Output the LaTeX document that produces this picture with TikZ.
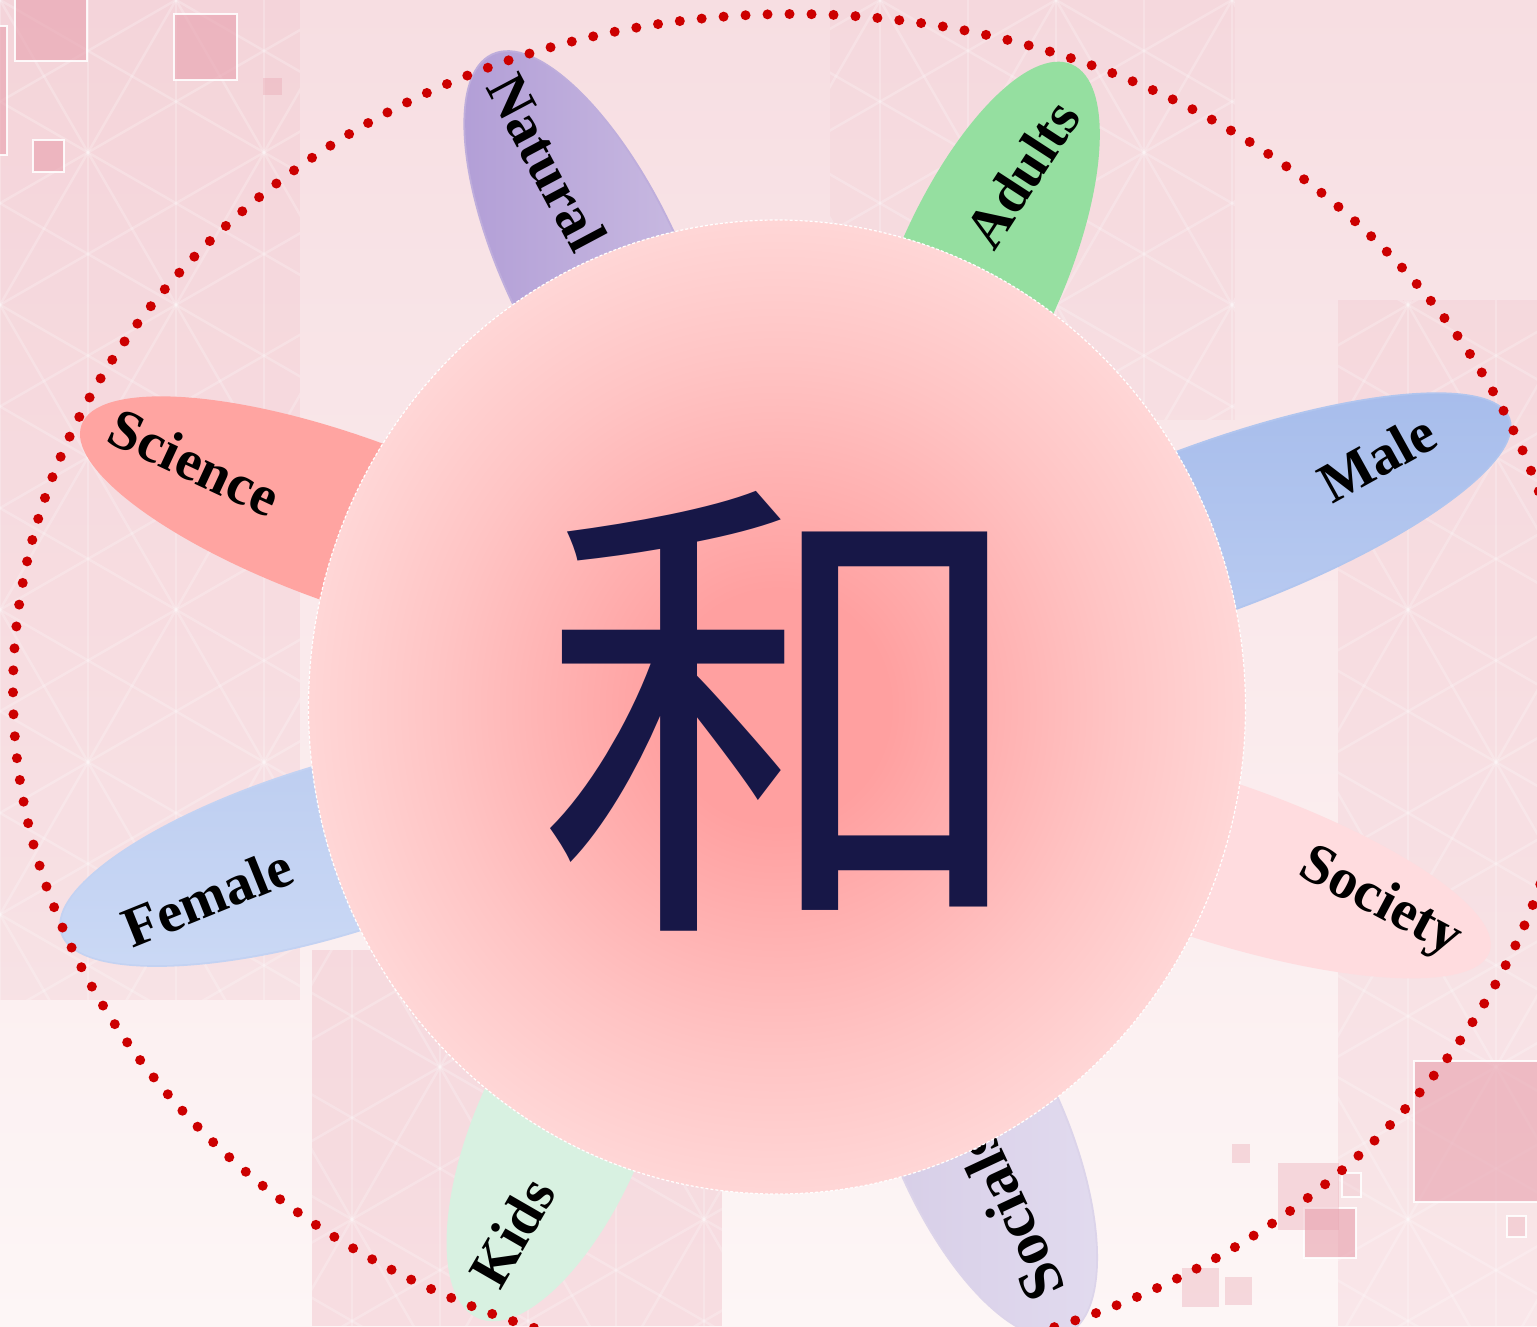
\documentclass[tikz,border=0pt]{standalone}
\usepackage{fontspec}
\setmainfont{Liberation Serif}
\newfontfamily\cjkfont[FakeStretch=1.03]{Noto Sans CJK JP}
\usetikzlibrary{shapes.geometric}
\definecolor{bgTop}{HTML}{F7DEE2}
\definecolor{bgBot}{HTML}{FDF6F6}
\definecolor{bandPink}{HTML}{EFB9C3}
\definecolor{sqPink}{HTML}{E8A0AD}
\definecolor{dotRed}{HTML}{CC0000}
\definecolor{kanjiCol}{HTML}{171747}
\definecolor{coreA}{HTML}{FFA0A0}
\definecolor{coreB}{HTML}{FFC4C4}
\definecolor{coreC}{HTML}{FFD9D9}
\definecolor{coreD}{HTML}{FFE2E2}
\definecolor{natL}{HTML}{B19DD6}
\definecolor{natR}{HTML}{CDBFE3}
\definecolor{natM}{HTML}{BFAEDC}
\definecolor{adultCol}{HTML}{95DFA0}
\definecolor{maleT}{HTML}{A6BCEB}
\definecolor{maleB}{HTML}{BDCEF2}
\definecolor{maleM}{HTML}{B1C5EE}
\definecolor{socCol}{HTML}{FFDCDF}
\definecolor{socialL}{HTML}{D5CCE6}
\definecolor{socialR}{HTML}{E2DBEF}
\definecolor{socialM}{HTML}{DCD4EA}
\definecolor{kidsCol}{HTML}{D8F1E1}
\definecolor{femT}{HTML}{BBCCF0}
\definecolor{femB}{HTML}{CBD9F5}
\definecolor{femM}{HTML}{C3D2F2}
\definecolor{sciCol}{HTML}{FFA4A1}
\pgfdeclareradialshading{coreglow}{\pgfpoint{0bp}{0bp}}{color(0bp)=(coreA); color(6bp)=(coreA); color(18bp)=(coreB); color(26bp)=(coreC); color(35bp)=(coreD); color(72bp)=(coreD)}
\tikzset{
  petallabel/.style={inner sep=0pt, text=black, font=\fontsize{57}{60}\selectfont\bfseries},
  decosq/.style={fill=sqPink, fill opacity=0.6, draw=white, draw opacity=0.9, line width=2.5pt},
  fadesq/.style={fill=sqPink, fill opacity=0.35},
  lattice/.style={draw=white, draw opacity=0.22, line width=2.5pt}
}
\begin{document}
\begin{tikzpicture}[x=1pt,y=-1pt]
\useasboundingbox (0,0) rectangle (1537,1326);
% background
\shade[top color=bgTop, bottom color=bgBot] (0,0) rectangle (1537,1326);
\fill[bandPink, opacity=0.25] (0,0) rectangle (300,1000);
\fill[bandPink, opacity=0.4] (312,950) rectangle (722,1326);
\fill[bandPink, opacity=0.15] (830,0) rectangle (1235,420);
\fill[bandPink, opacity=0.25] (1338,300) rectangle (1537,1326);
\begin{scope}
  \clip (0,0) rectangle (300,1000) (312,950) rectangle (722,1326)
        (830,0) rectangle (1235,420) (1338,300) rectangle (1537,1326);
  \foreach \k in {-30,...,30}{
    \draw[lattice] (\k*88,0) -- (\k*88,1326);
    \draw[lattice] (\k*176,0) -- ++(60:3200);
    \draw[lattice] (\k*176,0) -- ++(120:3200);
    \draw[lattice] (\k*176,0) -- ++(30:3200);
    \draw[lattice] (\k*176,0) -- ++(150:3200);
  }
\end{scope}
% decorative squares
\draw[decosq] (15,-5) rectangle (87,61);
\draw[decosq] (174,14) rectangle (237,80);
\draw[decosq] (33,140) rectangle (64,172);
\draw[decosq] (-5,26) rectangle (7,155);
\fill[fadesq] (263,78) rectangle (282,95);
\draw[decosq] (1414,1061) rectangle (1545,1202);
\draw[decosq] (1304,1208) rectangle (1356,1258);
\fill[fadesq] (1182,1268) rectangle (1219,1307);
\fill[fadesq] (1225,1277) rectangle (1252,1305);
\fill[fadesq] (1232,1144) rectangle (1250,1163);
\fill[fadesq] (1278,1163) rectangle (1339,1230);
\draw[decosq, fill opacity=0.2] (1342,1173) rectangle (1361,1197);
\draw[decosq, fill opacity=0.3] (1507,1216) rectangle (1526,1237);
% petals
\fill[natM, rotate around={115.4:(592,265)}] (592,265) ellipse [x radius=234, y radius=89];
\shade[left color=natL, right color=natR, rotate around={115.4:(592,265)}] (592,265) ellipse [x radius=232, y radius=87];
\fill[adultCol, rotate around={66.1:(980,272)}] (980,272) ellipse [x radius=227, y radius=84];
\fill[maleM, rotate around={20.3:(1210,529)}] (1210,529) ellipse [x radius=320, y radius=85];
\shade[top color=maleT, bottom color=maleB, rotate around={20.3:(1210,529)}] (1210,529) ellipse [x radius=318, y radius=83];
\fill[socCol, rotate around={-18.4:(1205,857)}] (1205,857) ellipse [x radius=300, y radius=80];
\fill[socialM, rotate around={-66.5:(980,1137)}] (980,1137) ellipse [x radius=216, y radius=88];
\shade[left color=socialL, right color=socialR, rotate around={-66.5:(980,1137)}] (980,1137) ellipse [x radius=214, y radius=86];
\fill[kidsCol, rotate around={246.6:(559,1131)}] (559,1131) ellipse [x radius=204, y radius=85];
\fill[femM, rotate around={197:(332,850)}] (332,850) ellipse [x radius=284, y radius=86];
\shade[top color=femT, bottom color=femB, rotate around={197:(332,850)}] (332,850) ellipse [x radius=282, y radius=84];
\fill[sciCol, rotate around={160.3:(347,520)}] (347,520) ellipse [x radius=282, y radius=84];
% petal labels
\node[petallabel, rotate=-62] (natural) at (547,162) {Natural};
\node[petallabel, rotate=57] (adults) at (1022,174) {Adults};
\node[petallabel, rotate=29] (male) at (1377,458) {Male};
\node[petallabel, rotate=-28] (society) at (1380,903) {Society};
\node[petallabel, rotate=115, font=\fontsize{61}{64}\selectfont\bfseries] (socials) at (1010,1216) {Socials};
\node[petallabel, rotate=60] (kids) at (512,1232) {Kids};
\node[petallabel, rotate=22] (female) at (207,897) {Female};
\node[petallabel, rotate=-25] (science) at (195,462) {Science};
% core circle
\node[ellipse, minimum width=937pt, minimum height=974pt, inner sep=0pt, shading=coreglow, draw=white, line width=1.2pt, densely dashed] (core) at (777,707) {};
\node[inner sep=0pt, text=kanjiCol, font=\cjkfont\fontsize{484}{484}\selectfont] (kanji) at (787,711) {和};
% dotted ring
\draw[dotRed, line width=10pt, line cap=round, dash pattern=on 0pt off 22pt] (793,690) ellipse [x radius=780, y radius=676];
\end{tikzpicture}
\end{document}
